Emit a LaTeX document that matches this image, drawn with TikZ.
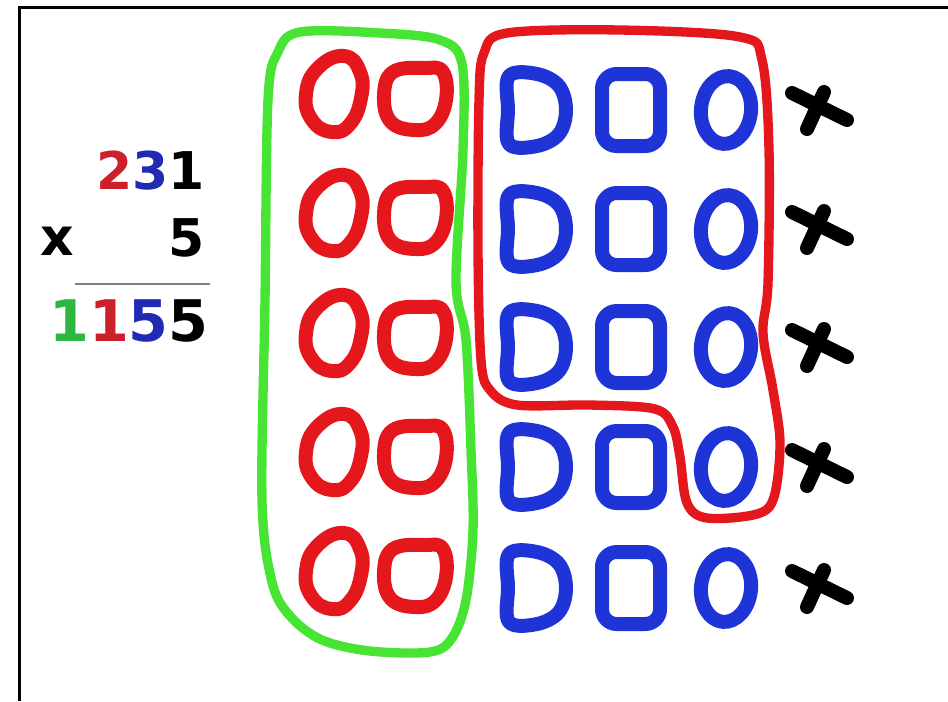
\documentclass[tikz,border=0pt]{standalone}
\usepackage{fontspec}
\setmainfont{DejaVu Sans}
\usepackage{xcolor}

\definecolor{penred}{RGB}{228,24,28}
\definecolor{penblue}{RGB}{30,52,214}
\definecolor{pengreen}{RGB}{72,228,52}
\definecolor{numred}{RGB}{204,32,42}
\definecolor{numblue}{RGB}{32,42,178}
\definecolor{numgreen}{RGB}{44,184,64}

\tikzset{
  felt/.style={line width=#1, line cap=round, line join=round,
    preaction={draw=black, opacity=.3, transform canvas={shift={(1.5pt,-1.5pt)}}}},
  felt/.default=10.5pt,
  num/.style={font=\fontsize{39}{42}\selectfont\bfseries, inner sep=0pt, anchor=base east},
  % hand drawn marks
  redoval/.pic={\draw[felt, penred] plot[smooth cycle, tension=.8] coordinates
    {(10,-38) (26,-22) (27,4) (16,30) (-2,38) (-22,26) (-28,0) (-16,-26)};},
  redround/.pic={\draw[felt, penred] plot[smooth cycle, tension=.7] coordinates
    {(-22,-26) (10,-30) (28,-26) (31,2) (20,26) (0,32) (-24,24) (-31,-2)};},
  blued/.pic={\draw[felt, penblue] plot[smooth cycle, tension=.6] coordinates
    {(-28,-34) (0,-36) (22,-24) (29,0) (22,24) (0,36) (-28,34) (-29,0)};},
  bluebox/.pic={\draw[felt, penblue, rounded corners=11pt] (-29,-36) rectangle (29,36);},
  blueo/.pic={\draw[felt, penblue, rotate=-6] (0,0) ellipse [x radius=25, y radius=34];},
  cross/.pic={\draw[felt=10.5pt, black] (-28,-17) -- (27,10) (4,-18) -- (-13,19);}
}

\begin{document}
\begin{tikzpicture}[x=0.75pt, y=-0.75pt]
  \useasboundingbox (0,0) rectangle (948,701);
  \draw[line width=2.25pt] (19,701) -- (19,7) -- (948,7);

  % the sum
  \node[num] (top) at (205,189) {\textcolor{numred}{2}\textcolor{numblue}{3}1};
  \node[num, anchor=base west] (times) at (40,255) {x};
  \node[num] (five) at (205,256) {5};
  \coordinate (ruleL) at (75,284);
  \coordinate (ruleR) at (210,284);
  \draw[gray, line width=1.2pt] (ruleL) -- (ruleR);
  \node[num, font=\fontsize{43}{46}\selectfont\bfseries] (result) at (209,341)
    {\textcolor{numgreen}{1}\textcolor{numred}{1}\textcolor{numblue}{5}5};

  % rows of marks
  \foreach \r/\b [count=\i] in {94/110, 213/229, 333/347, 452/467, 571/588} {
    \pic at (334,\r) {redoval};
    \pic at (415,\r+4) {redround};
    \pic at (537,\b) {blued};
    \pic at (631,\b) {bluebox};
    \pic at (726,\b) {blueo};
    \pic at (820,\b) {cross};
  }

  % loops
  \draw[felt=7pt, pengreen] plot[smooth cycle, tension=.55] coordinates
    {(300,32) (380,33) (440,40) (462,64) (463,150) (456,282) (466,340) (471,450)
     (473,530) (466,600) (452,638) (430,652) (370,651) (322,640) (290,616)
     (272,582) (262,500) (265,300) (268,100) (278,52)};
  \draw[felt=7pt, penred] plot[smooth cycle, tension=.55] coordinates
    {(507,33) (620,30) (740,37) (762,60) (769,150) (768,283) (763,333) (773,390)
     (780,443) (774,497) (757,514) (707,518) (687,503) (680,457) (673,427)
     (655,409) (590,405) (517,405) (490,390) (481,360) (478,250) (479,100) (484,53)};
\end{tikzpicture}
\end{document}
